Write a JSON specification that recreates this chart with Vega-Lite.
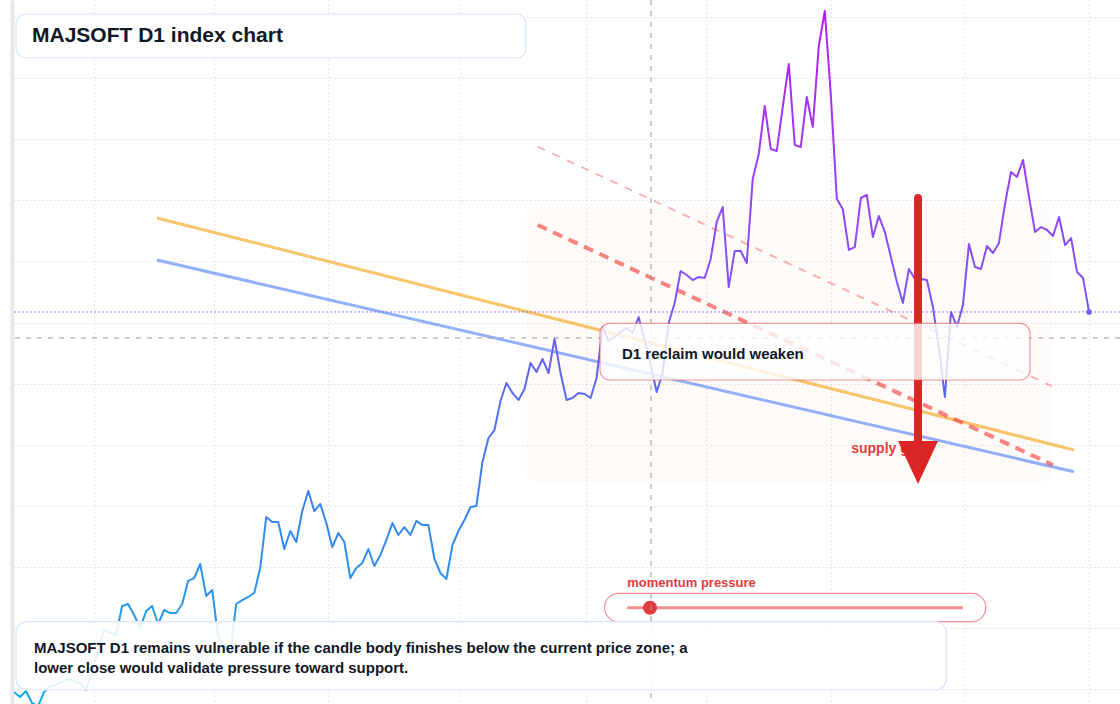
{
  "$schema": "https://vega.github.io/schema/vega-lite/v6.json",
  "width": 1106,
  "height": 704,
  "autosize": {"type": "none"},
  "padding": {"left": 14, "top": 0, "right": 0, "bottom": 0},
  "background": "#ffffff",
  "config": {"view": {"stroke": null}, "font": "Liberation Sans"},
  "datasets": {
    "price": [
      {"i": 0, "close": 18.1}, {"i": 1, "close": 14.8}, {"i": 2, "close": 18.8}, {"i": 3, "close": 10.9},
      {"i": 4, "close": 8.9}, {"i": 5, "close": 18.1}, {"i": 6, "close": 22.0}, {"i": 7, "close": 22.7},
      {"i": 8, "close": 24.7}, {"i": 9, "close": 26.6}, {"i": 10, "close": 25.3}, {"i": 11, "close": 24.0},
      {"i": 12, "close": 19.4}, {"i": 13, "close": 31.2}, {"i": 14, "close": 45.6}, {"i": 15, "close": 58.7},
      {"i": 16, "close": 57.4}, {"i": 17, "close": 55.4}, {"i": 18, "close": 74.4}, {"i": 19, "close": 75.7},
      {"i": 20, "close": 68.5}, {"i": 21, "close": 60.0}, {"i": 22, "close": 71.1}, {"i": 23, "close": 74.4},
      {"i": 24, "close": 62.6}, {"i": 25, "close": 71.8}, {"i": 26, "close": 69.8}, {"i": 27, "close": 69.8},
      {"i": 28, "close": 75.7}, {"i": 29, "close": 90.8}, {"i": 30, "close": 92.7}, {"i": 31, "close": 101.9},
      {"i": 32, "close": 81.0}, {"i": 33, "close": 84.9}, {"i": 34, "close": 54.1}, {"i": 35, "close": 48.9},
      {"i": 36, "close": 43.6}, {"i": 37, "close": 75.7}, {"i": 38, "close": 78.3}, {"i": 39, "close": 80.3},
      {"i": 40, "close": 82.9}, {"i": 41, "close": 99.3}, {"i": 42, "close": 132.7}, {"i": 43, "close": 129.4},
      {"i": 44, "close": 129.4}, {"i": 45, "close": 111.7}, {"i": 46, "close": 123.5}, {"i": 47, "close": 116.3},
      {"i": 48, "close": 136.6}, {"i": 49, "close": 149.7}, {"i": 50, "close": 136.6}, {"i": 51, "close": 141.2},
      {"i": 52, "close": 128.7}, {"i": 53, "close": 113.0}, {"i": 54, "close": 122.2}, {"i": 55, "close": 116.3},
      {"i": 56, "close": 92.7}, {"i": 57, "close": 99.3}, {"i": 58, "close": 102.6}, {"i": 59, "close": 111.7},
      {"i": 60, "close": 100.6}, {"i": 61, "close": 107.8}, {"i": 62, "close": 117.6}, {"i": 63, "close": 128.7},
      {"i": 64, "close": 120.9}, {"i": 65, "close": 126.1}, {"i": 66, "close": 120.9}, {"i": 67, "close": 130.1},
      {"i": 68, "close": 127.4}, {"i": 69, "close": 127.4}, {"i": 70, "close": 105.2}, {"i": 71, "close": 96.0},
      {"i": 72, "close": 92.1}, {"i": 73, "close": 114.3}, {"i": 74, "close": 123.5}, {"i": 75, "close": 130.7},
      {"i": 76, "close": 139.2}, {"i": 77, "close": 139.9}, {"i": 78, "close": 168.7}, {"i": 79, "close": 184.4},
      {"i": 80, "close": 189.6}, {"i": 81, "close": 208.6}, {"i": 82, "close": 220.4}, {"i": 83, "close": 213.9},
      {"i": 84, "close": 209.3}, {"i": 85, "close": 216.5}, {"i": 86, "close": 233.5}, {"i": 87, "close": 227.6},
      {"i": 88, "close": 236.1}, {"i": 89, "close": 226.9}, {"i": 90, "close": 249.2}, {"i": 91, "close": 226.9},
      {"i": 92, "close": 209.3}, {"i": 93, "close": 210.6}, {"i": 94, "close": 213.9}, {"i": 95, "close": 213.2},
      {"i": 96, "close": 210.6}, {"i": 97, "close": 223.7}, {"i": 98, "close": 257.1}, {"i": 99, "close": 247.9},
      {"i": 100, "close": 250.5}, {"i": 101, "close": 253.8}, {"i": 102, "close": 256.4}, {"i": 103, "close": 253.1},
      {"i": 104, "close": 263.6}, {"i": 105, "close": 248.6}, {"i": 106, "close": 232.8}, {"i": 107, "close": 214.5},
      {"i": 108, "close": 226.9}, {"i": 109, "close": 259.7}, {"i": 110, "close": 272.8}, {"i": 111, "close": 293.7},
      {"i": 112, "close": 291.1}, {"i": 113, "close": 287.8}, {"i": 114, "close": 289.8}, {"i": 115, "close": 289.1},
      {"i": 116, "close": 301.6}, {"i": 117, "close": 325.8}, {"i": 118, "close": 335.6}, {"i": 119, "close": 283.2},
      {"i": 120, "close": 306.8}, {"i": 121, "close": 306.8}, {"i": 122, "close": 299.0}, {"i": 123, "close": 354.0},
      {"i": 124, "close": 370.3}, {"i": 125, "close": 401.7}, {"i": 126, "close": 373.6}, {"i": 127, "close": 372.3},
      {"i": 128, "close": 401.1}, {"i": 129, "close": 429.2}, {"i": 130, "close": 376.2}, {"i": 131, "close": 374.9},
      {"i": 132, "close": 407.6}, {"i": 133, "close": 388.0}, {"i": 134, "close": 441.0}, {"i": 135, "close": 463.9},
      {"i": 136, "close": 408.9}, {"i": 137, "close": 340.9}, {"i": 138, "close": 334.3}, {"i": 139, "close": 307.5},
      {"i": 140, "close": 309.4}, {"i": 141, "close": 341.5}, {"i": 142, "close": 343.5}, {"i": 143, "close": 316.0},
      {"i": 144, "close": 329.7}, {"i": 145, "close": 319.3}, {"i": 146, "close": 302.9}, {"i": 147, "close": 286.5},
      {"i": 148, "close": 272.8}, {"i": 149, "close": 295.0}, {"i": 150, "close": 288.5}, {"i": 151, "close": 288.5},
      {"i": 152, "close": 287.8}, {"i": 153, "close": 270.2}, {"i": 154, "close": 243.0}, {"i": 155, "close": 211.2},
      {"i": 156, "close": 266.9}, {"i": 157, "close": 257.1}, {"i": 158, "close": 271.5}, {"i": 159, "close": 311.4},
      {"i": 160, "close": 296.3}, {"i": 161, "close": 295.0}, {"i": 162, "close": 310.1}, {"i": 163, "close": 305.5},
      {"i": 164, "close": 312.1}, {"i": 165, "close": 337.6}, {"i": 166, "close": 358.5}, {"i": 167, "close": 355.3},
      {"i": 168, "close": 366.4}, {"i": 169, "close": 342.2}, {"i": 170, "close": 319.3}, {"i": 171, "close": 322.5},
      {"i": 172, "close": 320.6}, {"i": 173, "close": 316.6}, {"i": 174, "close": 329.1}, {"i": 175, "close": 310.7},
      {"i": 176, "close": 315.3}, {"i": 177, "close": 293.1}, {"i": 178, "close": 289.1}, {"i": 179, "close": 266.9}
    ],
    "guides": [
      {"guide": "orange", "i": 23.8, "v": 328.4}, {"guide": "orange", "i": 176.5, "v": 176.5},
      {"guide": "blue", "i": 23.8, "v": 300.9}, {"guide": "blue", "i": 176.5, "v": 162.3},
      {"guide": "red", "i": 87.2, "v": 323.8}, {"guide": "red", "i": 173.0, "v": 166.7},
      {"guide": "lightred", "i": 87.2, "v": 375.1}, {"guide": "lightred", "i": 172.8, "v": 218.4}
    ]
  },
  "layer": [
    {
      "data": {"values": [{"x1": 85.4, "x2": 172.8, "y1": 335.8, "y2": 155.6}]},
      "mark": {"type": "rect", "cornerRadius": 12, "fill": "#f97316", "fillOpacity": 0.03},
      "encoding": {
        "x": {
          "field": "x1", "type": "quantitative",
          "scale": {"domain": [0, 184.15], "nice": false, "zero": false},
          "axis": {
            "title": null, "labels": false, "ticks": false, "domain": false,
            "grid": true, "gridColor": "#cfcfcf", "gridDash": [1, 3],
            "values": [13.3, 33.3, 52.3, 74.3, 95.2, 115.2, 136, 158.2, 179]
          }
        },
        "x2": {"field": "x2"},
        "y": {
          "field": "y1", "type": "quantitative",
          "scale": {"domain": [10.25, 471.13], "nice": false, "zero": false},
          "axis": {
            "title": null, "labels": false, "ticks": false,
            "domain": true, "domainColor": "#e8e8e8", "domainWidth": 4, "offset": 2,
            "grid": true, "gridColor": "#cfcfcf", "gridDash": [1, 3],
            "values": [20, 40, 60, 80, 100, 120, 140, 160, 180, 200, 220, 240, 260, 280, 300, 320, 340, 360, 380, 400, 420, 440, 460]
          }
        },
        "y2": {"field": "y2"}
      }
    },
    {
      "data": {"name": "guides"},
      "transform": [{"filter": "datum.guide === 'orange'"}],
      "mark": {"type": "line", "stroke": "#f59e0b", "strokeOpacity": 0.6, "strokeWidth": 3},
      "encoding": {
        "x": {"field": "i", "type": "quantitative"},
        "y": {"field": "v", "type": "quantitative"}
      }
    },
    {
      "data": {"name": "guides"},
      "transform": [{"filter": "datum.guide === 'blue'"}],
      "mark": {"type": "line", "stroke": "#4a7cf6", "strokeOpacity": 0.6, "strokeWidth": 3},
      "encoding": {
        "x": {"field": "i", "type": "quantitative"},
        "y": {"field": "v", "type": "quantitative"}
      }
    },
    {
      "data": {"name": "guides"},
      "transform": [{"filter": "datum.guide === 'red'"}],
      "mark": {"type": "line", "stroke": "#ef4444", "strokeOpacity": 0.65, "strokeWidth": 4, "strokeDash": [10, 7]},
      "encoding": {
        "x": {"field": "i", "type": "quantitative"},
        "y": {"field": "v", "type": "quantitative"}
      }
    },
    {
      "data": {"name": "guides"},
      "transform": [{"filter": "datum.guide === 'lightred'"}],
      "mark": {"type": "line", "stroke": "#ef4444", "strokeOpacity": 0.4, "strokeWidth": 2, "strokeDash": [8, 8]},
      "encoding": {
        "x": {"field": "i", "type": "quantitative"},
        "y": {"field": "v", "type": "quantitative"}
      }
    },
    {
      "data": {"values": [{"v": 266.9}]},
      "mark": {"type": "rule", "stroke": "#7357f6", "strokeWidth": 1, "strokeDash": [1.5, 2.5]},
      "encoding": {"y": {"field": "v", "type": "quantitative"}}
    },
    {
      "data": {"name": "price"},
      "mark": {
        "type": "line", "clip": true, "strokeWidth": 2, "strokeJoin": "round",
        "stroke": {
          "gradient": "linear", "x1": 0, "y1": 1, "x2": 0, "y2": 0,
          "stops": [
            {"offset": 0, "color": "#14aaea"},
            {"offset": 0.22, "color": "#2f8dec"},
            {"offset": 0.38, "color": "#4677f0"},
            {"offset": 0.5, "color": "#6461f2"},
            {"offset": 0.6, "color": "#7f55f5"},
            {"offset": 0.78, "color": "#9b3df3"},
            {"offset": 1, "color": "#b51cf0"}
          ]
        }
      },
      "encoding": {
        "x": {"field": "i", "type": "quantitative"},
        "y": {"field": "close", "type": "quantitative"}
      }
    },
    {
      "data": {"values": [{"i": 179, "close": 266.9}]},
      "mark": {"type": "point", "filled": true, "size": 32, "color": "#7c5cf6", "opacity": 1},
      "encoding": {
        "x": {"field": "i", "type": "quantitative"},
        "y": {"field": "close", "type": "quantitative"}
      }
    },
    {
      "data": {"values": [{"x1": 98.34, "x2": 161.8, "y1": 82.72, "y2": 64.16}]},
      "mark": {"type": "rect", "cornerRadius": 14, "fill": "#ffffff", "stroke": "#ef4444", "strokeOpacity": 0.6, "strokeWidth": 1.2},
      "encoding": {
        "x": {"field": "x1", "type": "quantitative"},
        "x2": {"field": "x2"},
        "y": {"field": "y1", "type": "quantitative"},
        "y2": {"field": "y2"}
      }
    },
    {
      "data": {"values": [{"i": 102.1, "i2": 158.0, "v": 73.3}]},
      "mark": {"type": "rule", "stroke": "#ef4444", "strokeOpacity": 0.6, "strokeWidth": 3},
      "encoding": {
        "x": {"field": "i", "type": "quantitative"},
        "x2": {"field": "i2"},
        "y": {"field": "v", "type": "quantitative"}
      }
    },
    {
      "data": {"values": [{"i": 105.9, "v": 73.3}]},
      "mark": {"type": "point", "filled": true, "size": 196, "color": "#e23c3c", "opacity": 1},
      "encoding": {
        "x": {"field": "i", "type": "quantitative"},
        "y": {"field": "v", "type": "quantitative"}
      }
    },
    {
      "data": {"values": [{"i": 102.1, "v": 87.0, "label": "momentum pressure"}]},
      "mark": {"type": "text", "align": "left", "baseline": "alphabetic", "font": "Liberation Sans", "fontSize": 13, "fontWeight": "bold", "color": "#e23c3c"},
      "encoding": {
        "x": {"field": "i", "type": "quantitative"},
        "y": {"field": "v", "type": "quantitative"},
        "text": {"field": "label"}
      }
    },
    {
      "data": {"values": [{"v": 249.9}]},
      "mark": {"type": "rule", "stroke": "#9a9a9a", "strokeWidth": 1, "strokeDash": [5, 6]},
      "encoding": {"y": {"field": "v", "type": "quantitative"}}
    },
    {
      "data": {"values": [{"i": 106.06}]},
      "mark": {"type": "rule", "stroke": "#9a9a9a", "strokeWidth": 1, "strokeDash": [5, 6]},
      "encoding": {"x": {"field": "i", "type": "quantitative"}}
    },
    {
      "data": {"values": [{"i": 139.4, "v": 174.4, "label": "supply gate"}]},
      "mark": {"type": "text", "align": "left", "baseline": "alphabetic", "font": "Liberation Sans", "fontSize": 14, "fontWeight": "bold", "color": "#e53e3e"},
      "encoding": {
        "x": {"field": "i", "type": "quantitative"},
        "y": {"field": "v", "type": "quantitative"},
        "text": {"field": "label"}
      }
    },
    {
      "data": {"values": [{"i": 150.52, "top": 341.5, "bottom": 179.8}]},
      "mark": {"type": "rule", "stroke": "#dc2626", "strokeWidth": 8, "strokeCap": "round"},
      "encoding": {
        "x": {"field": "i", "type": "quantitative"},
        "y": {"field": "top", "type": "quantitative"},
        "y2": {"field": "bottom"}
      }
    },
    {
      "data": {"values": [{"i": 150.52, "v": 169.3}]},
      "mark": {"type": "point", "shape": "M-1,-1L1,-1L0,1.15Z", "filled": true, "size": 1600, "color": "#dc2626", "opacity": 1},
      "encoding": {
        "x": {"field": "i", "type": "quantitative"},
        "y": {"field": "v", "type": "quantitative"}
      }
    },
    {
      "data": {"values": [{"x1": 97.57, "x2": 169.16, "y1": 259.47, "y2": 222.36}]},
      "mark": {"type": "rect", "cornerRadius": 10, "fill": "#ffffff", "fillOpacity": 0.8, "stroke": "#ef4444", "strokeOpacity": 0.55, "strokeWidth": 1.2},
      "encoding": {
        "x": {"field": "x1", "type": "quantitative"},
        "x2": {"field": "x2"},
        "y": {"field": "y1", "type": "quantitative"},
        "y2": {"field": "y2"}
      }
    },
    {
      "data": {"values": [{"i": 101.23, "v": 239.6, "label": "D1 reclaim would weaken"}]},
      "mark": {"type": "text", "align": "left", "baseline": "middle", "font": "Liberation Sans", "fontSize": 15, "fontWeight": "bold", "color": "#111827"},
      "encoding": {
        "x": {"field": "i", "type": "quantitative"},
        "y": {"field": "v", "type": "quantitative"},
        "text": {"field": "label"}
      }
    },
    {
      "data": {"values": [{"x1": 0.33, "x2": 155.2, "y1": 64.13, "y2": 19.41}]},
      "mark": {"type": "rect", "cornerRadius": 11, "fill": "#ffffff", "fillOpacity": 0.88, "stroke": "#d6e4fb", "strokeWidth": 1.2},
      "encoding": {
        "x": {"field": "x1", "type": "quantitative"},
        "x2": {"field": "x2"},
        "y": {"field": "y1", "type": "quantitative"},
        "y2": {"field": "y2"}
      }
    },
    {
      "data": {"values": [{"i": 3.33, "v": 43.64, "label": "MAJSOFT D1 remains vulnerable if the candle body finishes below the current price zone; a\nlower close would validate pressure toward support."}]},
      "mark": {"type": "text", "align": "left", "baseline": "alphabetic", "lineBreak": "\n", "lineHeight": 20, "font": "Liberation Sans", "fontSize": 15, "fontWeight": "bold", "color": "#111827"},
      "encoding": {
        "x": {"field": "i", "type": "quantitative"},
        "y": {"field": "v", "type": "quantitative"},
        "text": {"field": "label"}
      }
    },
    {
      "data": {"values": [{"x1": 0.33, "x2": 85.25, "y1": 461.96, "y2": 433.16}]},
      "mark": {"type": "rect", "cornerRadius": 10, "fill": "#ffffff", "stroke": "#d6e4fb", "strokeWidth": 1.2},
      "encoding": {
        "x": {"field": "x1", "type": "quantitative"},
        "x2": {"field": "x2"},
        "y": {"field": "y1", "type": "quantitative"},
        "y2": {"field": "y2"}
      }
    },
    {
      "data": {"values": [{"i": 3.0, "v": 447.56, "label": "MAJSOFT D1 index chart"}]},
      "mark": {"type": "text", "align": "left", "baseline": "middle", "font": "Liberation Sans", "fontSize": 21, "fontWeight": "bold", "color": "#111827"},
      "encoding": {
        "x": {"field": "i", "type": "quantitative"},
        "y": {"field": "v", "type": "quantitative"},
        "text": {"field": "label"}
      }
    }
  ]
}
